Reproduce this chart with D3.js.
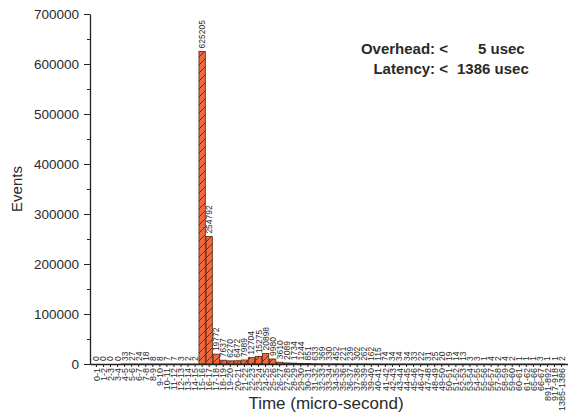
<!DOCTYPE html>
<html>
<head>
<meta charset="utf-8">
<script src="https://cdn.jsdelivr.net/npm/d3@7"></script>
<style>
  body{margin:0;background:#fff}
  svg{display:block}
  text{font-family:"Liberation Sans",Arial,sans-serif;fill:#2a2a2a}
</style>
</head>
<body>
<div id="chart"></div>
<script>
/* latency histogram — events per 1 usec bin */

/* ---------- DATA ---------- */
const BINS=[
  "0-1","1-2","2-3","3-4","4-5","5-6","6-7","7-8","8-9","9-10",
  "10-11","11-12","12-13","13-14","14-15","15-16","16-17","17-18","18-19","19-20",
  "20-21","21-22","22-23","23-24","24-25","25-26","26-27","27-28","28-29","29-30",
  "30-31","31-32","32-33","33-34","34-35","35-36","36-37","37-38","38-39","39-40",
  "40-41","41-42","42-43","43-44","44-45","45-46","46-47","47-48","48-49","49-50",
  "50-51","51-52","52-53","53-54","54-55","55-56","56-57","57-58","58-59","59-60",
  "60-61","61-62","65-66","66-67","891-892","917-918","1385-1386"
];
const COUNTS=[
  0,0,0,0,33,27,24,18,8,8,
  7,7,3,2,2,625205,254792,19772,7637,6270,
  6472,7989,12704,15275,20898,9980,3610,2089,1734,1244,
  851,633,369,330,452,221,239,302,262,162,
  115,74,34,34,34,33,22,31,25,20,
  19,14,13,3,3,1,4,2,4,2,
  1,1,1,3,1,1,2
];
const Y_TICKS=[0,100000,200000,300000,400000,500000,600000,700000];
const Y_MINOR=[50000,150000,250000,350000,450000,550000,650000];
const NOTE=[["Overhead: <","5 usec"],["Latency: <","1386 usec"]];

/* ---------- CONFIG ---------- */
const W=568, H=415;
const X0=90, X1=568, Y0=364, Y1=14;
const BAR_COL="#ee693c", HATCH_COL="#3b2418";

const svg=d3.select("#chart").append("svg").attr("width",W).attr("height",H);

/* hatch fill */
const pat=svg.append("defs").append("pattern").attr("id","hatch")
  .attr("patternUnits","userSpaceOnUse").attr("width",8).attr("height",8);
pat.append("rect").attr("width",8).attr("height",8).attr("fill",BAR_COL);
pat.append("path").attr("d","M0,8L8,0M-2,2L2,-2M6,10L10,6")
  .attr("stroke",HATCH_COL).attr("stroke-width",0.8);

const x=d3.scaleBand().domain(BINS).range([X0,X1]).paddingInner(0.1).paddingOuter(0.46);
const y=d3.scaleLinear().domain([0,700000]).range([Y0,Y1]);

/* ---------- BARS ---------- */
const data=BINS.map((b,i)=>({bin:b,v:COUNTS[i]}));
svg.append("g").selectAll("rect").data(data).enter().append("rect")
  .attr("x",d=>x(d.bin)).attr("width",x.bandwidth())
  .attr("y",d=>y(d.v)).attr("height",d=>Y0-y(d.v))
  .attr("fill","url(#hatch)")
  .attr("stroke",d=>d.v>0?"#4a2516":"none").attr("stroke-width",0.8);

/* value labels */
svg.append("g").selectAll("text").data(data).enter().append("text")
  .attr("transform",d=>`translate(${x(d.bin)+x.bandwidth()/2},${y(d.v)-3}) rotate(-90)`)
  .attr("dy","0.35em").style("font-size","8.5px")
  .text(d=>d.v);

/* ---------- AXES ---------- */
const ya=svg.append("g").attr("transform",`translate(${X0},0)`)
  .call(d3.axisLeft(y).tickValues(Y_TICKS).tickFormat(d3.format("d")).tickSize(6).tickSizeOuter(0).tickPadding(5));
ya.selectAll("text").style("font-size","13.5px");
svg.append("g").attr("transform",`translate(${X0},0)`)
  .call(d3.axisLeft(y).tickValues(Y_MINOR).tickFormat("").tickSize(3).tickSizeOuter(0))
  .select(".domain").remove();

const xa=svg.append("g").attr("transform",`translate(0,${Y0})`)
  .call(d3.axisBottom(x).tickSize(3).tickSizeOuter(0));
xa.selectAll("text")
  .attr("transform","rotate(-90)").attr("text-anchor","end")
  .attr("x",-4).attr("y",0).attr("dy","0.35em")
  .style("font-size","9px");

svg.selectAll(".domain").attr("stroke","#222").attr("stroke-width",1.3);
svg.selectAll(".tick line").attr("stroke","#222");

/* ---------- TITLES ---------- */
svg.append("text").attr("transform",`translate(22,${(Y0+Y1)/2}) rotate(-90)`)
  .attr("text-anchor","middle").style("font-size","15px").text("Events");
svg.append("text").attr("x",326).attr("y",409)
  .attr("text-anchor","middle").style("font-size","17px").text("Time (micro-second)");

/* ---------- NOTE ---------- */
const note=svg.append("g").style("font-size","15px").style("font-weight","bold");
NOTE.forEach((r,i)=>{
  note.append("text").attr("x",448).attr("y",54+i*19.5).attr("text-anchor","end").text(r[0]);
  note.append("text").attr("x",i?457:478).attr("y",54+i*19.5).text(r[1]);
});
</script>
</body>
</html>
